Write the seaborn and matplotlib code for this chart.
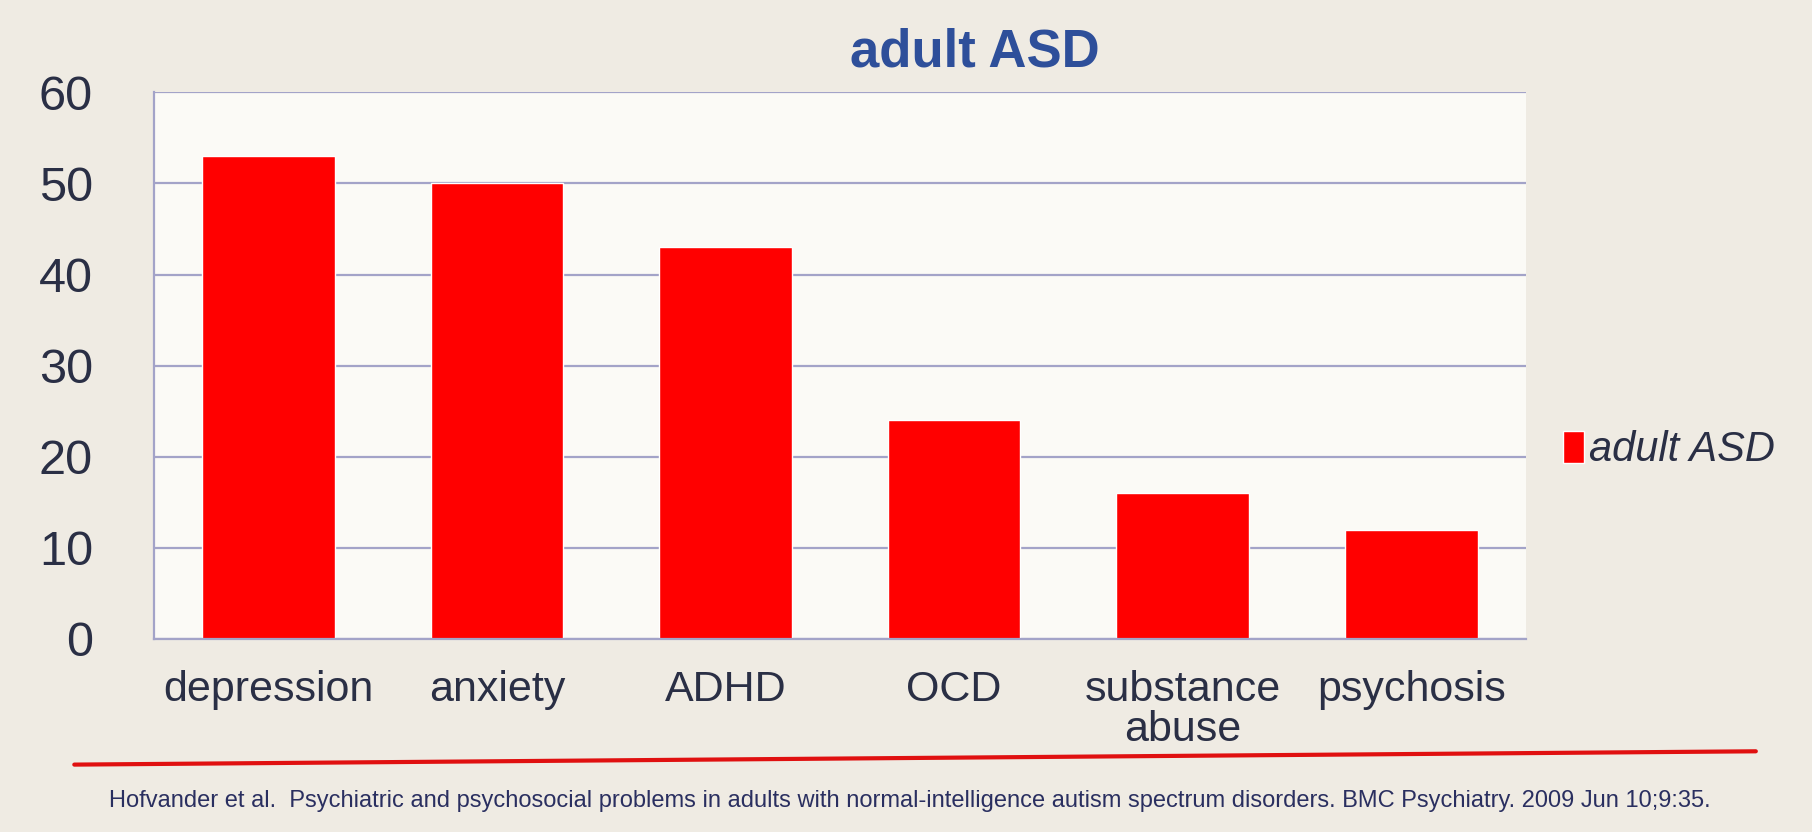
import matplotlib
matplotlib.use("Agg")
import matplotlib.pyplot as plt
import seaborn as sns
import pandas as pd
from matplotlib.lines import Line2D

categories = ["depression", "anxiety", "ADHD", "OCD", "substance\nabuse", "psychosis"]
values = [53, 50, 43, 24, 16, 12]
series_name = "adult ASD"
title = "adult ASD"
yticks = [0, 10, 20, 30, 40, 50, 60]
footer = ("Hofvander et al.  Psychiatric and psychosocial problems in adults with "
          "normal-intelligence autism spectrum disorders. BMC Psychiatry. 2009 Jun 10;9:35.")

sns.set_theme(style="white")
plt.rcParams["font.family"] = ["Liberation Sans", "DejaVu Sans"]

df = pd.DataFrame({"category": categories, "value": values})

fig = plt.figure(figsize=(18.12, 8.32), dpi=100, facecolor="#efebe3")
ax = fig.add_axes([0.085, 0.232, 0.757, 0.657])
ax.set_facecolor("#fbfaf6")

sns.barplot(data=df, x="category", y="value", color="#ff0000", width=0.58,
            saturation=1, label=series_name, ax=ax)

ax.set_ylim(0, 60)
ax.set_yticks(yticks)
ax.yaxis.grid(True, color="#a3a3c8", linewidth=1.6)
ax.set_axisbelow(True)
for s in ["top", "right"]:
    ax.spines[s].set_visible(False)
for s in ["left", "bottom"]:
    ax.spines[s].set_color("#a3a3c8")
    ax.spines[s].set_linewidth(1.6)

ax.set_xlabel("")
ax.set_ylabel("")
ax.tick_params(axis="y", labelsize=35, labelcolor="#2a2f45", pad=44, length=0)
ax.tick_params(axis="x", labelsize=31, labelcolor="#2a2f45", pad=22, length=0)
for lbl in ax.get_xticklabels():
    lbl.set_linespacing(1.0)

fig.text(0.538, 0.937, title, fontsize=38, fontweight="bold", color="#2e4f9a",
         ha="center", va="center")

ax.legend(loc="center left", bbox_to_anchor=(1.0, 0.345), frameon=False,
          handlelength=0.5, handleheight=0.8, handletextpad=0.12,
          prop={"style": "italic", "size": 30})
for t in ax.get_legend().get_texts():
    t.set_color("#2a2f45")

fig.add_artist(Line2D([0.041, 0.969], [0.081, 0.097], transform=fig.transFigure,
                      color="#e01010", linewidth=3))
fig.text(0.06, 0.0375, footer, fontsize=17, color="#2a2f60", ha="left", va="center")

fig.savefig("out.png", dpi=100, facecolor=fig.get_facecolor())
